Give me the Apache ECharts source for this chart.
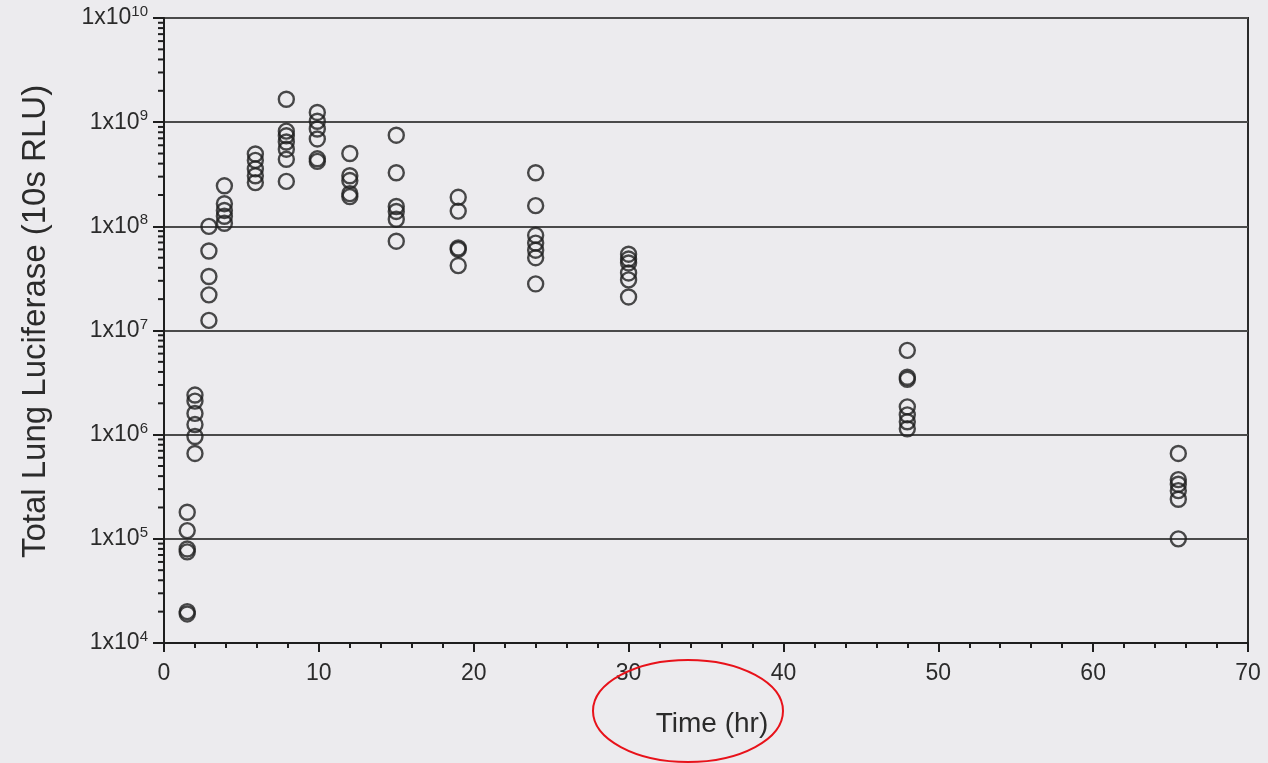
<!DOCTYPE html>
<html>
<head>
<meta charset="utf-8">
<script src="https://cdn.jsdelivr.net/npm/echarts@6/dist/echarts.min.js"></script>
<style>
html,body{margin:0;padding:0;background:#ecebee;}
#c{width:1268px;height:763px;}
</style>
</head>
<body>
<div id="c"></div>
<script>
// Time points (hr)
var times = [1.5, 2, 2.9, 3.9, 5.9, 7.9, 9.9, 12, 15, 19, 24, 30, 48, 65.5];
// Total lung luciferase values at each time point (10s RLU)
var t1_5 = [1.8e5, 1.2e5, 8.0e4, 7.5e4, 2.0e4, 1.9e4];
var t2   = [2.4e6, 2.1e6, 1.6e6, 1.25e6, 9.6e5, 6.6e5];
var t3   = [1.0e8, 5.8e7, 3.3e7, 2.2e7, 1.25e7];
var t4   = [2.45e8, 1.65e8, 1.42e8, 1.25e8, 1.07e8];
var t6   = [4.95e8, 4.3e8, 3.56e8, 3.06e8, 2.63e8];
var t8   = [1.66e9, 8.2e8, 7.4e8, 6.45e8, 5.5e8, 4.4e8, 2.7e8];
var t10  = [1.24e9, 1.02e9, 8.6e8, 6.9e8, 4.45e8, 4.2e8];
var t12  = [5.0e8, 3.06e8, 2.75e8, 2.06e8, 1.93e8];
var t15  = [7.5e8, 3.27e8, 1.55e8, 1.39e8, 1.17e8, 7.2e7];
var t19  = [1.9e8, 1.4e8, 6.2e7, 6.0e7, 4.2e7];
var t24  = [3.27e8, 1.58e8, 8.2e7, 6.9e7, 5.9e7, 5.0e7, 2.8e7];
var t30  = [5.4e7, 4.85e7, 4.45e7, 3.57e7, 3.06e7, 2.1e7];
var t48  = [6.45e6, 3.56e6, 3.4e6, 1.85e6, 1.55e6, 1.33e6, 1.14e6];
var t66  = [6.6e5, 3.7e5, 3.34e5, 2.9e5, 2.4e5, 1.0e5];
var valueSets = [t1_5, t2, t3, t4, t6, t8, t10, t12, t15, t19, t24, t30, t48, t66];

// Axis tick settings
var xTicks = [0, 10, 20, 30, 40, 50, 60, 70];
var yDecades = [4, 5, 6, 7, 8, 9, 10];
var yMinorMultipliers = [2, 3, 4, 5, 6, 7, 8, 9];

var points = [];
times.forEach(function (t, i) {
  valueSets[i].forEach(function (v) { points.push([t, v]); });
});

var minorTicks = [];
yDecades.slice(0, -1).forEach(function (d) {
  yMinorMultipliers.forEach(function (m) { minorTicks.push([0, m * Math.pow(10, d)]); });
});

var FONT = 'Liberation Sans, Arial, sans-serif';
var TXT = '#2b2b2b';
var chart = echarts.init(document.getElementById('c'));
chart.setOption({
  animation: false,
  backgroundColor: '#ecebee',
  grid: {
    left: 164, right: 20, top: 18, bottom: 120,
    show: true, borderColor: '#2a2a2a', borderWidth: 2, backgroundColor: 'transparent'
  },
  xAxis: {
    type: 'value',
    min: xTicks[0], max: xTicks[xTicks.length - 1], interval: 10,
    name: 'Time (hr)', nameLocation: 'middle', nameGap: 67,
    nameTextStyle: { fontFamily: FONT, fontSize: 28, color: TXT, padding: [0, 0, 0, 12] },
    axisLine: { show: true, lineStyle: { color: '#1e1e1e', width: 2 } },
    axisTick: { show: true, inside: false, length: 9, lineStyle: { color: '#1e1e1e', width: 2 } },
    minorTick: { show: true, splitNumber: 5, length: 5, lineStyle: { color: '#1e1e1e', width: 2 } },
    axisLabel: { fontFamily: FONT, fontSize: 23, color: TXT, margin: 19 },
    splitLine: { show: false }
  },
  yAxis: {
    type: 'log', logBase: 10,
    min: Math.pow(10, yDecades[0]), max: Math.pow(10, yDecades[yDecades.length - 1]),
    splitNumber: 6,
    name: 'Total Lung Luciferase (10s RLU)', nameLocation: 'middle', nameGap: 112,
    nameRotate: 90,
    nameTextStyle: { fontFamily: FONT, fontSize: 33, color: TXT, padding: [0, 0, 0, 18] },
    axisLine: { show: true, lineStyle: { color: '#1e1e1e', width: 2 } },
    axisTick: { show: true, inside: false, length: 11, lineStyle: { color: '#1e1e1e', width: 2 } },
    axisLabel: {
      margin: 16,
      formatter: function (v) {
        var e = Math.round(Math.log10(v));
        return '{b|1x10}{s|' + e + '}';
      },
      rich: {
        b: { fontFamily: FONT, fontSize: 23, color: TXT, lineHeight: 27 },
        s: { fontFamily: FONT, fontSize: 15, color: TXT, lineHeight: 15, verticalAlign: 'top' }
      }
    },
    splitLine: { show: true, lineStyle: { color: '#4a4a4a', width: 2 } }
  },
  graphic: [{
    type: 'ellipse',
    shape: { cx: 688, cy: 711, rx: 95, ry: 51 },
    style: { fill: 'none', stroke: '#e8121a', lineWidth: 2 },
    z: 100
  }],
  series: [
    {
      type: 'custom',
      coordinateSystem: 'cartesian2d',
      clip: false,
      silent: true,
      data: minorTicks,
      renderItem: function (params, api) {
        var p = api.coord([api.value(0), api.value(1)]);
        return {
          type: 'line',
          shape: { x1: p[0] - 6, y1: p[1], x2: p[0], y2: p[1] },
          style: { stroke: '#1e1e1e', lineWidth: 2 }
        };
      },
      z: 5
    },
    {
      type: 'scatter',
      data: points,
      symbol: 'circle',
      symbolSize: 15,
      itemStyle: { color: 'rgba(0,0,0,0)', borderColor: '#1e1e1e', borderWidth: 2.4 },
      z: 10
    }
  ]
});
</script>
</body>
</html>
